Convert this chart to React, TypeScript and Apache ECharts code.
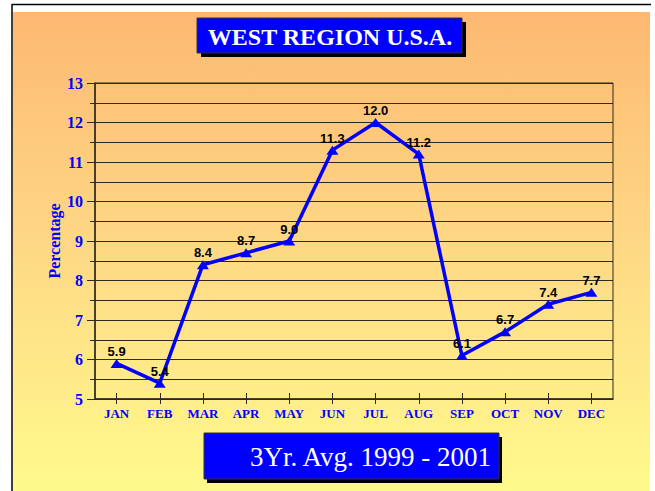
import React, { useEffect, useRef } from "react";
import * as echarts from "echarts";

const months = ["JAN", "FEB", "MAR", "APR", "MAY", "JUN", "JUL", "AUG", "SEP", "OCT", "NOV", "DEC"];
const percentages = [5.9, 5.4, 8.4, 8.7, 9.0, 11.3, 12.0, 11.2, 6.1, 6.7, 7.4, 7.7];
const titleText = "WEST REGION U.S.A.";
const subtitleText = "3Yr. Avg. 1999 - 2001";
const yAxisName = "Percentage";

const BLUE = "#0000ff";
const DARK = "#2e2a20";

export default function App() {
  const ref = useRef<HTMLDivElement>(null);

  useEffect(() => {
    if (!ref.current) return;
    const chart = echarts.init(ref.current, undefined, { renderer: "svg" });
    chart.setOption({
      animation: false,
      backgroundColor: "#ffffff",
      grid: {
        left: 95,
        top: 83,
        right: 42,
        bottom: 92,
        show: true,
        borderColor: DARK,
        borderWidth: 1,
        backgroundColor: "transparent",
      },
      graphic: [
        {
          type: "rect",
          z: -10,
          shape: { x: 13, y: 12, width: 637, height: 479 },
          style: {
            fill: new echarts.graphic.LinearGradient(0, 0, 0, 1, [
              { offset: 0, color: "#fdb872" },
              { offset: 0.5, color: "#fed985" },
              { offset: 1, color: "#fffa8c" },
            ]),
          },
        },
        {
          type: "line",
          z: -9,
          shape: { x1: 12, y1: 4.5, x2: 651, y2: 4.5 },
          style: { stroke: "#000", lineWidth: 1.5 },
        },
        {
          type: "line",
          z: -9,
          shape: { x1: 12, y1: 4, x2: 12, y2: 491 },
          style: { stroke: "#000", lineWidth: 1.5 },
        },
        {
          type: "rect",
          z: 100,
          shape: { x: 201, y: 22, width: 265, height: 35 },
          style: { fill: "#000" },
        },
        {
          type: "rect",
          z: 101,
          shape: { x: 197, y: 18, width: 265, height: 35 },
          style: { fill: BLUE, stroke: "#3a3320", lineWidth: 1 },
        },
        {
          type: "text",
          z: 102,
          x: 330,
          y: 37,
          style: {
            text: titleText,
            fill: "#fff",
            font: "bold 24px 'Liberation Serif', 'Times New Roman', serif",
            align: "center",
            verticalAlign: "middle",
          },
        },
        {
          type: "rect",
          z: 100,
          shape: { x: 207, y: 437, width: 295, height: 46 },
          style: { fill: "#000" },
        },
        {
          type: "rect",
          z: 101,
          shape: { x: 204, y: 433, width: 295, height: 46 },
          style: { fill: BLUE, stroke: "#3a3320", lineWidth: 1 },
        },
        {
          type: "text",
          z: 102,
          x: 491,
          y: 457,
          style: {
            text: subtitleText,
            fill: "#fff",
            font: "27px 'Liberation Serif', 'Times New Roman', serif",
            align: "right",
            verticalAlign: "middle",
          },
        },
      ],
      xAxis: [
        {
          type: "category",
          data: months,
          boundaryGap: true,
          position: "bottom",
          axisLine: { show: true, lineStyle: { color: DARK, width: 1.5 } },
          axisTick: { show: true, alignWithLabel: true, length: 5, lineStyle: { color: DARK } },
          axisLabel: {
            color: BLUE,
            fontFamily: "'Liberation Serif', 'Times New Roman', serif",
            fontWeight: "bold",
            fontSize: 13,
            margin: 8,
          },
          splitLine: { show: false },
        },
        {
          type: "category",
          data: months,
          boundaryGap: true,
          position: "bottom",
          axisLine: { show: false },
          axisTick: { show: true, inside: true, alignWithLabel: true, length: 6, lineStyle: { color: DARK } },
          axisLabel: { show: false },
          splitLine: { show: false },
        },
      ],
      yAxis: {
        type: "value",
        min: 5,
        max: 13,
        interval: 1,
        name: yAxisName,
        nameLocation: "middle",
        nameGap: 33,
        nameMoveOverlap: false,
        nameTextStyle: {
          color: BLUE,
          fontFamily: "'Liberation Serif', 'Times New Roman', serif",
          fontWeight: "bold",
          fontSize: 16,
        },
        axisLine: { show: true, lineStyle: { color: DARK, width: 1.5 } },
        axisTick: { show: true, length: 8, lineStyle: { color: DARK } },
        minorTick: { show: true, splitNumber: 2, length: 5, lineStyle: { color: DARK } },
        axisLabel: {
          color: BLUE,
          fontFamily: "'Liberation Serif', 'Times New Roman', serif",
          fontWeight: "bold",
          fontSize: 16,
          margin: 12,
        },
        splitLine: { show: true, lineStyle: { color: DARK, width: 1 } },
        minorSplitLine: { show: true, lineStyle: { color: DARK, width: 1 } },
      },
      series: [
        {
          type: "line",
          xAxisIndex: 0,
          data: percentages,
          lineStyle: { color: BLUE, width: 3.5 },
          itemStyle: { color: BLUE },
          symbol: "triangle",
          symbolSize: [12, 9],
          z: 5,
          label: {
            show: true,
            position: "top",
            distance: 1,
            color: "#000",
            fontFamily: "'Liberation Sans', Arial, sans-serif",
            fontWeight: "bold",
            fontSize: 13,
            formatter: (p: any) => Number(p.value).toFixed(1),
          },
        },
      ],
    });
    return () => chart.dispose();
  }, []);

  return (
    <div
      ref={ref}
      style={{ position: "fixed", left: 0, top: 0, width: 655, height: 491 }}
    />
  );
}
